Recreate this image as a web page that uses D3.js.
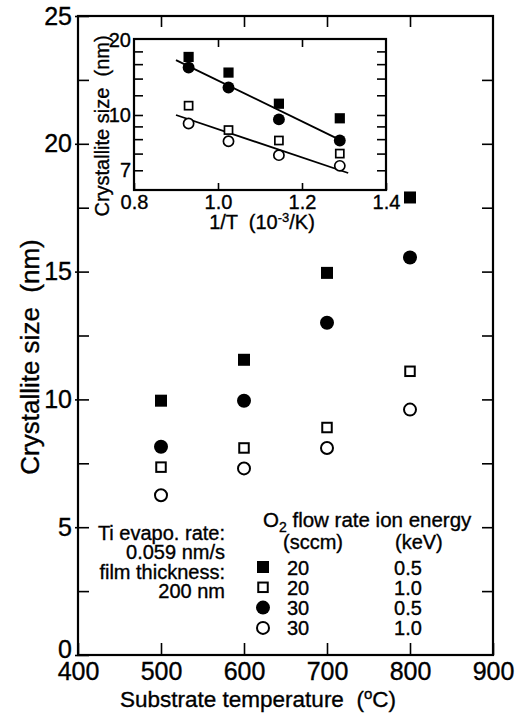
<!DOCTYPE html>
<html>
<head>
<meta charset="utf-8">
<script src="https://cdn.jsdelivr.net/npm/d3@7"></script>
<style>
body { margin: 0; background: #fff; }
svg text { font-family: "Liberation Sans", Arial, sans-serif; fill: #000; stroke: #000; stroke-width: 0.35px; }
</style>
</head>
<body>
<div id="chart"></div>
<script>
// values
let temperature = [500, 600, 700, 800];
let size20_05 = [9.95, 11.55, 14.95, 17.9];
let size20_10 = [7.35, 8.1, 8.9, 11.1];
let size30_05 = [8.15, 9.95, 13.0, 15.55];
let size30_10 = [6.25, 7.3, 8.1, 9.6];

// inset: crystallite size vs 1/T (log scale)
let invT = [1.29, 1.145, 1.025, 0.93];
let inset20_05 = [9.7, 11.1, 14.8, 17.1];
let inset20_10 = [7.0, 7.9, 8.7, 10.9];
let inset30_05 = [7.9, 9.6, 12.9, 15.5];
let inset30_10 = [6.25, 6.9, 7.85, 9.25];
let fitHigh = [[0.90, 16.6], [1.30, 7.8]];
let fitLow = [[0.90, 10.0], [1.31, 5.85]];

let xTicks = [400, 500, 600, 700, 800, 900];
let yTicks = [0, 5, 10, 15, 20, 25];
let insetXTicks = [0.8, 1.0, 1.2, 1.4];
let insetYMinor = [6, 7, 8, 9, 10, 12, 14, 16, 18];
let insetYTickValues = [20, 10, 6];
let insetYTickLabels = ["20", "10", "7"]; // labels as printed on the figure

let legendFlow = ["20", "20", "30", "30"];
let legendEnergy = ["0.5", "1.0", "0.5", "1.0"];
let infoLines = ["Ti evapo. rate:", "0.059 nm/s", "film thickness:", "200 nm"];

let kinds = [
    {shape: "square", filled: true},
    {shape: "square", filled: false},
    {shape: "circle", filled: true},
    {shape: "circle", filled: false}
];
let mainSeries = [size20_05, size20_10, size30_05, size30_10];
let insetSeries = [inset20_05, inset20_10, inset30_05, inset30_10];

let W = 528, H = 713;
let font = "'Liberation Sans', Arial, sans-serif";

let svg = d3.select("#chart").append("svg")
    .attr("width", W)
    .attr("height", H);

let x = d3.scaleLinear().domain([400, 900]).range([78, 493]);
let y = d3.scaleLinear().domain([0, 25]).range([655, 16]);

function marker(g, kind, big) {
    let s = big ? 1 : 0.85;
    if (kind.shape === "square") {
        let a = kind.filled ? 12 * s : 9.5 * s;
        g.append("rect")
            .attr("x", -a / 2).attr("y", -a / 2)
            .attr("width", a).attr("height", a)
            .attr("fill", kind.filled ? "#000" : "#fff")
            .attr("stroke", kind.filled ? "none" : "#000")
            .attr("stroke-width", 2 * s);
    } else {
        g.append("circle")
            .attr("r", kind.filled ? 7 * s : 6 * s)
            .attr("fill", kind.filled ? "#000" : "#fff")
            .attr("stroke", kind.filled ? "none" : "#000")
            .attr("stroke-width", 2 * s);
    }
}

function styleAxis(g, size) {
    g.select(".domain").remove();
    g.selectAll("line").attr("stroke", "#000").attr("stroke-width", 1.6);
    g.selectAll("text").attr("font-size", size).attr("font-family", font).attr("fill", "#000");
}

// ---- main panel axes ----
let axesLayer = svg.append("g").attr("class", "axes-layer");

axesLayer.append("g")
    .attr("transform", "translate(" + x.range()[0] + ",0)")
    .call(d3.axisLeft(y).tickValues(d3.range(0, 25.1, 2.5)).tickSize(-11).tickFormat(""))
    .call(styleAxis, 25);

axesLayer.append("g")
    .attr("transform", "translate(" + x.range()[0] + ",0)")
    .call(d3.axisLeft(y).tickValues(yTicks).tickSize(3).tickPadding(3))
    .call(styleAxis, 25)
    .call(function(g) {
        // the zero label sits a little above its tick in the figure
        g.selectAll(".tick text").filter(function(d) { return d === 0; }).attr("dy", "0.1em");
    });

axesLayer.append("g")
    .attr("transform", "translate(" + x.range()[1] + ",0)")
    .call(d3.axisRight(y).tickValues(d3.range(2.5, 25, 2.5)).tickSize(-11).tickFormat(""))
    .call(styleAxis, 25);

axesLayer.append("g")
    .attr("transform", "translate(0," + y.range()[0] + ")")
    .call(d3.axisBottom(x).tickValues(xTicks).tickSize(-12).tickPadding(7))
    .call(styleAxis, 25);

axesLayer.append("g")
    .attr("transform", "translate(0," + y.range()[1] + ")")
    .call(d3.axisTop(x).tickValues(xTicks.slice(1, -1)).tickSize(-11).tickFormat(""))
    .call(styleAxis, 25);

axesLayer.append("rect")
    .attr("x", x.range()[0]).attr("y", y.range()[1])
    .attr("width", x.range()[1] - x.range()[0])
    .attr("height", y.range()[0] - y.range()[1])
    .attr("fill", "none").attr("stroke", "#000").attr("stroke-width", 2.2);

// axis titles
let xTitle = svg.append("text")
    .attr("x", 258).attr("y", 707)
    .attr("text-anchor", "middle")
    .attr("font-size", 22.5)
    .style("white-space", "pre");
xTitle.append("tspan").text("Substrate temperature  (");
xTitle.append("tspan").attr("dy", -8).attr("font-size", 15).text("o");
xTitle.append("tspan").attr("dy", 8).text("C)");

svg.append("text")
    .attr("transform", "translate(39,357) rotate(-90)")
    .attr("text-anchor", "middle")
    .attr("font-size", 26)
    .style("white-space", "pre")
    .text("Crystallite size  (nm)");

// ---- main data ----
let pointLayer = svg.append("g").attr("class", "point-layer");
mainSeries.forEach(function(values, i) {
    values.forEach(function(v, j) {
        let g = pointLayer.append("g")
            .attr("transform", "translate(" + x(temperature[j]) + "," + y(v) + ")");
        marker(g, kinds[i], true);
    });
});

// ---- legend ----
let legend = svg.append("g").attr("class", "legend").attr("font-size", 20);

legend.selectAll(".info")
    .data(infoLines)
    .enter().append("text")
    .attr("class", "info")
    .attr("x", 225)
    .attr("y", function(d, i) { return 540 + i * 19.3; })
    .attr("text-anchor", "end")
    .text(function(d) { return d; });

let head = legend.append("text").attr("x", 263).attr("y", 527).attr("font-size", 20.5);
head.append("tspan").text("O");
head.append("tspan").attr("dy", 5).attr("font-size", 14).text("2");
head.append("tspan").attr("dy", -5).text(" flow rate ion energy");

legend.append("text").attr("x", 283).attr("y", 549).text("(sccm)");
legend.append("text").attr("x", 395).attr("y", 549).text("(keV)");

let rows = legend.selectAll(".row")
    .data(kinds)
    .enter().append("g")
    .attr("class", "row")
    .attr("transform", function(d, i) { return "translate(263," + (567 + i * 20.3) + ")"; });

rows.each(function(d) { marker(d3.select(this), d, true); });
rows.append("text")
    .attr("x", 24).attr("y", 7.5)
    .text(function(d, i) { return legendFlow[i]; });
rows.append("text")
    .attr("x", 145).attr("y", 7.5)
    .attr("text-anchor", "middle")
    .text(function(d, i) { return legendEnergy[i]; });

// ---- inset ----
let ix = d3.scaleLinear().domain([0.8, 1.4]).range([134, 386]);
let iy = d3.scaleLog().domain([5, 20]).range([190, 40]);

let inset = svg.append("g").attr("class", "inset");

inset.append("rect")
    .attr("x", ix.range()[0]).attr("y", iy.range()[1] - 1)
    .attr("width", ix.range()[1] - ix.range()[0])
    .attr("height", iy.range()[0] - iy.range()[1] + 1)
    .attr("fill", "#fff");

inset.append("g")
    .attr("transform", "translate(" + ix.range()[0] + ",0)")
    .call(d3.axisLeft(iy).tickValues(insetYMinor).tickSize(-9).tickFormat(""))
    .call(styleAxis, 19);

inset.append("g")
    .attr("transform", "translate(" + ix.range()[0] + ",0)")
    .call(d3.axisLeft(iy).tickValues(insetYTickValues).tickSize(0).tickPadding(3)
        .tickFormat(function(d, i) { return insetYTickLabels[i]; }))
    .call(styleAxis, 20);

inset.append("g")
    .attr("transform", "translate(" + ix.range()[1] + ",0)")
    .call(d3.axisRight(iy).tickValues(insetYMinor).tickSize(-9).tickFormat(""))
    .call(styleAxis, 19);

inset.append("g")
    .attr("transform", "translate(0," + iy.range()[0] + ")")
    .call(d3.axisBottom(ix).tickValues(insetXTicks).tickSize(-7).tickPadding(5)
        .tickFormat(d3.format(".1f")))
    .call(styleAxis, 20);

inset.append("g")
    .attr("transform", "translate(0," + (iy.range()[1] - 1) + ")")
    .call(d3.axisTop(ix).tickValues(insetXTicks.slice(1, -1)).tickSize(-8).tickFormat(""))
    .call(styleAxis, 20);

inset.append("rect")
    .attr("x", ix.range()[0]).attr("y", iy.range()[1] - 1)
    .attr("width", ix.range()[1] - ix.range()[0])
    .attr("height", iy.range()[0] - iy.range()[1] + 1)
    .attr("fill", "none").attr("stroke", "#000").attr("stroke-width", 2.2);

let ixTitle = inset.append("text")
    .attr("x", 262).attr("y", 229)
    .attr("text-anchor", "middle")
    .attr("font-size", 20)
    .style("white-space", "pre");
ixTitle.append("tspan").text("1/T  (10");
ixTitle.append("tspan").attr("dy", -7).attr("font-size", 13).text("-3");
ixTitle.append("tspan").attr("dy", 7).text("/K)");

inset.append("text")
    .attr("transform", "translate(109,126) rotate(-90)")
    .attr("text-anchor", "middle")
    .attr("font-size", 20)
    .style("white-space", "pre")
    .text("Crystallite size  (nm)");

let fitLine = d3.line()
    .x(function(d) { return ix(d[0]); })
    .y(function(d) { return iy(d[1]); });

inset.selectAll(".fit")
    .data([fitHigh, fitLow])
    .enter().append("path")
    .attr("class", "fit")
    .attr("d", fitLine)
    .attr("fill", "none")
    .attr("stroke", "#000")
    .attr("stroke-width", 1.8);

insetSeries.forEach(function(values, i) {
    values.forEach(function(v, j) {
        let g = inset.append("g")
            .attr("transform", "translate(" + ix(invT[j]) + "," + iy(v) + ")");
        marker(g, kinds[i], false);
    });
});
</script>
</body>
</html>
